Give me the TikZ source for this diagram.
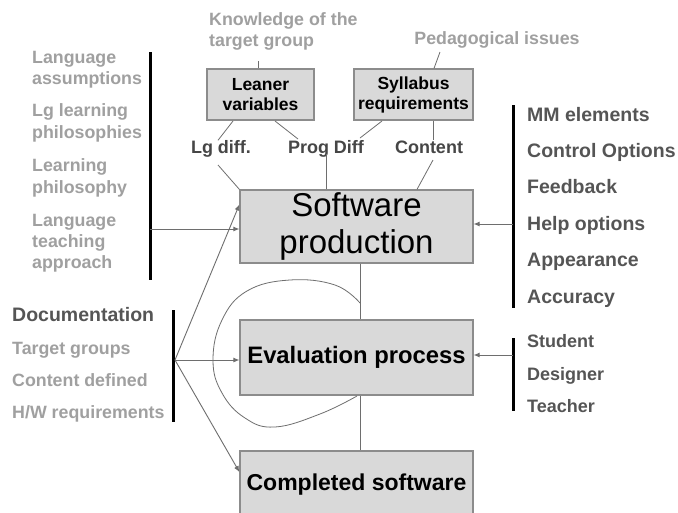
\documentclass[tikz,border=0pt]{standalone}
\usepackage{fontspec}
\setmainfont{Liberation Sans}
\usepackage{tikz}
\usetikzlibrary{arrows.meta, positioning, calc}
\usepackage{xcolor}
\definecolor{boxfill}{RGB}{217,217,217}
\definecolor{boxline}{RGB}{140,140,140}
\definecolor{paletxt}{RGB}{160,160,160}
\definecolor{midtxt}{RGB}{85,85,85}
\definecolor{darktxt}{RGB}{70,70,70}
\definecolor{wire}{RGB}{110,110,110}

\begin{document}
\begin{tikzpicture}[x=1pt, y=-1pt,
  stage/.style={draw=boxline, fill=boxfill, line width=1.2pt, minimum width=233pt, inner sep=0pt},
  small/.style={draw=boxline, fill=boxfill, line width=1.2pt, inner sep=0pt, align=center,
    font=\fontsize{17.5}{20}\selectfont\bfseries},
  pale/.style={text=paletxt, align=left, inner sep=0pt, font=\fontsize{17.8}{21.5}\selectfont\bfseries},
  line/.style={text height=13pt, text depth=0pt},
  item/.style={text=midtxt, inner sep=0pt, anchor=west, text height=14pt, text depth=0pt,
    font=\fontsize{19.5}{22}\selectfont\bfseries},
  tag/.style={text=darktxt, inner sep=0pt, line, font=\fontsize{18}{20}\selectfont\bfseries},
  bar/.style={line width=3pt, black},
  thin/.style={wire, line width=0.8pt},
  arr/.style={wire, line width=0.9pt, -{Latex[length=6pt, width=5pt]}}]
  \useasboundingbox (0,0) rectangle (678,512);
  \fill[white] (0,0) rectangle (678,512);
  \clip (0,0) rectangle (678,512);

  % main stages
  \node[stage, minimum height=73pt, align=center, font=\fontsize{33}{37}\selectfont] (soft) at (356.5,226.5) {Software\\production};
  \node[stage, minimum height=75pt, font=\fontsize{23.8}{26}\selectfont\bfseries] (eval) at (356.5,357.5) {Evaluation process};
  \node[stage, minimum height=68pt, font=\fontsize{23}{26}\selectfont\bfseries] (done) at (356.5,485) {Completed software};

  % input boxes on top
  \node[small, minimum width=107pt, minimum height=51pt] (leaner) at (260.5,94.5) {Leaner\\variables};
  \node[small, minimum width=119pt, minimum height=51pt] (syll) at (413.5,94.5) {Syllabus\\requirements};
  \node[pale, anchor=north west] (know) at (209,12) {Knowledge of the\\target group};
  \node[pale, line] (peda) at (497,38) {Pedagogical issues};
  \node[tag] (lgdiff) at (221,147) {Lg diff.};
  \node[tag] (progdiff) at (326,147) {Prog Diff};
  \node[tag] (content) at (429,147) {Content};

  \draw[thin] (leaner.north -| 258,0) -- ++(0,-7);
  \draw[thin] (syll.north -| 434,0) -- (440,52);
  \draw[thin] (233,121) -- (lgdiff.north -| 218,0);
  \draw[thin] (275,121) -- (298,139);
  \draw[thin] (382,121) -- (360,138);
  \draw[thin] (syll.south -| 433,0) -- (content.north -| 433,0);
  \draw[thin] (218,165) -- (soft.north west);
  \draw[thin] (progdiff.south) -- (soft.north -| progdiff);
  \draw[thin] (433,160) -- (soft.north -| 417,0);

  % left list
  \node[pale, anchor=west] (lg1) at (32,69.5) {Language\\assumptions};
  \node[pale, anchor=west] (lg2) at (32,123) {Lg learning\\philosophies};
  \node[pale, anchor=west] (lg3) at (32,178) {Learning\\philosophy};
  \node[pale, anchor=west, font=\fontsize{17.8}{21}\selectfont\bfseries] (lg4) at (32,243) {Language\\teaching\\approach};
  \draw[bar] (150,52) -- (150,280);
  \coordinate (lhub) at (150,229);
  \draw[arr] (lhub) -- (lhub -| soft.west);

  % right list
  \foreach \t [count=\i] in {MM elements, Control Options, Feedback, Help options, Appearance, Accuracy}
    \node[item] (r\i) at (527,{114+36.4*(\i-1)}) {\t};
  \draw[bar] (513,105) -- (513,308);
  \coordinate (rhub) at (513,224);
  \draw[arr] (rhub) -- (rhub -| soft.east);

  % documentation list
  \node[item] (doc) at (12,314) {Documentation};
  \node[pale, anchor=west, line] (tg) at (12,348) {Target groups};
  \node[pale, anchor=west, line] (cd) at (12,380) {Content defined};
  \node[pale, anchor=west, line] (hw) at (12,412) {H/W requirements};
  \draw[bar] (173,310) -- (173,422);
  \coordinate (dhub) at (175,360);
  \draw[arr] (dhub) -- ([yshift=22pt]soft.west);
  \draw[arr] (dhub) -- (dhub -| eval.west);
  \draw[arr] (dhub) -- ([yshift=13pt]done.west);

  % evaluators
  \foreach \t [count=\i] in {Student, Designer, Teacher}
    \node[item, text height=13pt, font=\fontsize{18}{20}\selectfont\bfseries] (e\i) at (527,{341+32.5*(\i-1)}) {\t};
  \draw[bar] (513,338) -- (513,411);
  \coordinate (ehub) at (513,355);
  \draw[arr] (ehub) -- (ehub -| eval.east);

  % flow between stages
  \draw[thin] ([xshift=3.5pt]soft.south) -- ([xshift=3.5pt]eval.north);
  \draw[thin] ([xshift=3.5pt]eval.south) -- ([xshift=3.5pt]done.north);

  % feedback loop around evaluation
  \draw[wire, line width=0.8pt] plot[smooth, tension=0.7] coordinates
    {(360,303) (335,285) (290,280) (247,291) (222,320) (213,360) (222,393) (245,418) (275,427) (320,414) (357,396)};
\end{tikzpicture}
\end{document}
